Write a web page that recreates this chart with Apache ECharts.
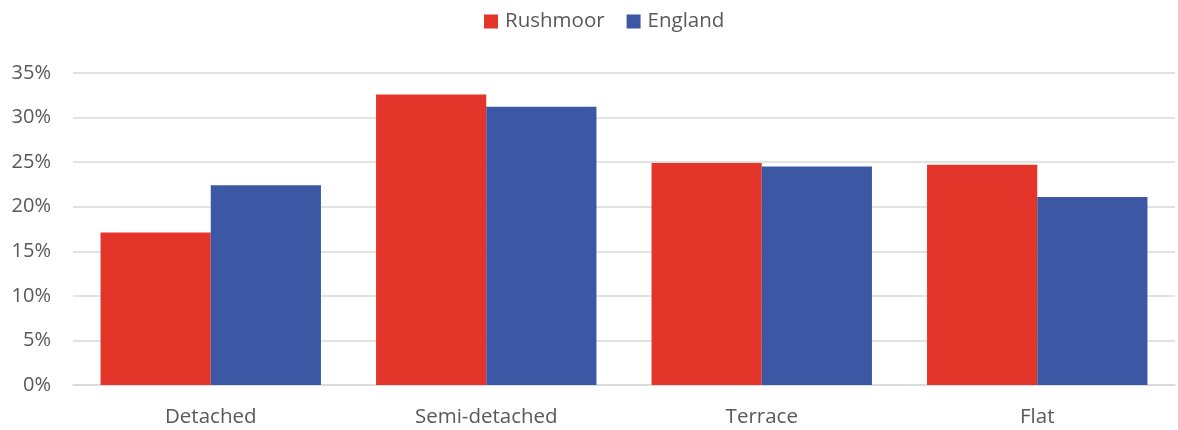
<!DOCTYPE html>
<html>
<head>
<meta charset="utf-8">
<script src="https://cdn.jsdelivr.net/npm/echarts@6/dist/echarts.min.js"></script>
<style>
  html, body { margin: 0; padding: 0; background: #fff; }
  #chart { width: 1178px; height: 430px; }
</style>
</head>
<body>
<div id="chart"></div>
<script>
// house types
const categories = ['Detached', 'Semi-detached', 'Terrace', 'Flat']
const rushmoor = [17.1, 32.6, 24.9, 24.7]
const england = [22.4, 31.2, 24.5, 21.1]
const yTicks = [0, 5, 10, 15, 20, 25, 30, 35]

const chart = echarts.init(document.getElementById('chart'))
const labelColor = '#595959'
const font = '"Open Sans", Lato, sans-serif'

chart.setOption({
  animation: false,
  textStyle: { fontFamily: font },
  legend: {
    top: 6,
    left: 479,
    itemWidth: 14,
    itemHeight: 14,
    itemGap: 22,
    icon: 'rect',
    textStyle: { fontSize: 20.5, color: labelColor, fontFamily: font, padding: [0, 0, 0, 2] },
    data: ['Rushmoor', 'England']
  },
  grid: { left: 73, right: 3, top: 73, bottom: 45, containLabel: false },
  xAxis: {
    type: 'category',
    data: categories,
    axisTick: { show: false },
    axisLine: { lineStyle: { color: '#d9d9d9', width: 1.5 } },
    axisLabel: { fontSize: 20.5, color: labelColor, margin: 22, fontFamily: font }
  },
  yAxis: {
    type: 'value',
    min: yTicks[0],
    max: yTicks[yTicks.length - 1],
    interval: 5,
    axisLine: { show: false },
    axisTick: { show: false },
    splitLine: { lineStyle: { color: '#d9d9d9', width: 1.5 } },
    axisLabel: { fontSize: 20, color: labelColor, margin: 22, formatter: v => v + '%', fontFamily: font }
  },
  series: [
    {
      name: 'Rushmoor',
      type: 'bar',
      data: rushmoor,
      barGap: '0%',
      barCategoryGap: '20%',
      itemStyle: { color: '#e3352a' }
    },
    {
      name: 'England',
      type: 'bar',
      data: england,
      itemStyle: { color: '#3c57a3' }
    }
  ]
})
</script>
</body>
</html>
